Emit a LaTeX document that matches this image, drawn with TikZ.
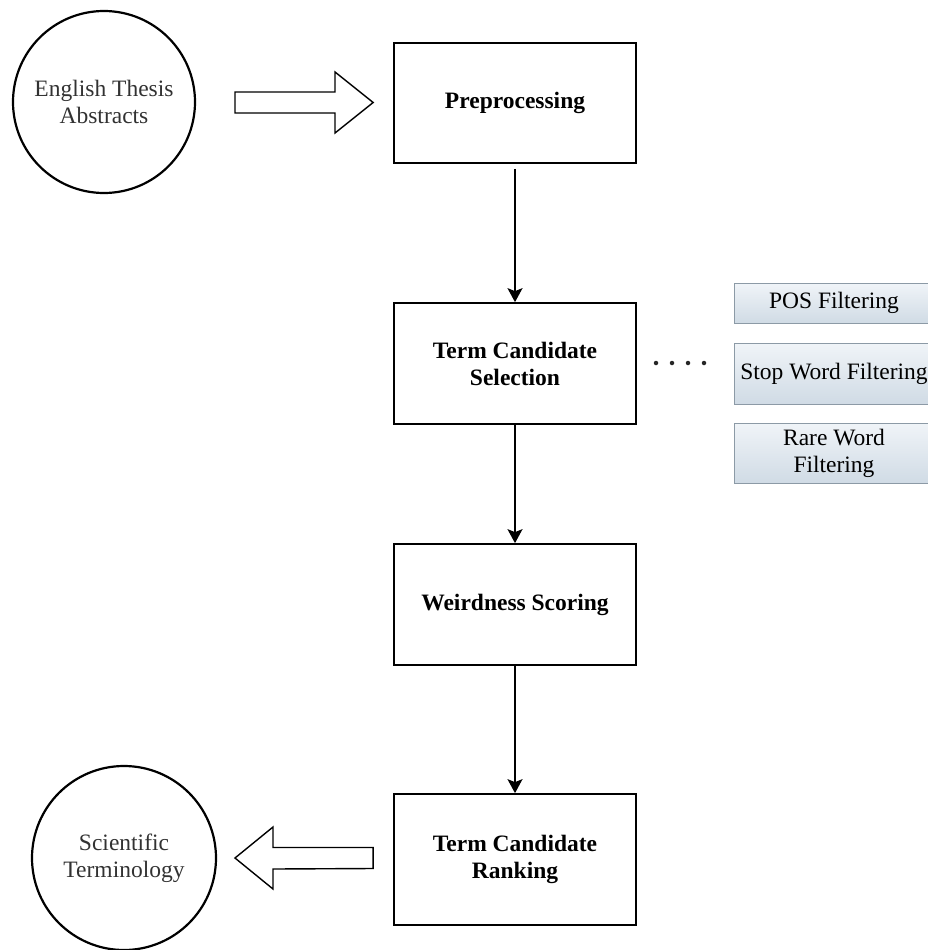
\documentclass[tikz,border=0pt]{standalone}
\usepackage{fontspec}
\setmainfont{Liberation Serif}
\usetikzlibrary{arrows.meta,calc}
\definecolor{inkgray}{RGB}{50,50,50}
\definecolor{filtertop}{RGB}{240,244,248}
\definecolor{filterbot}{RGB}{208,219,229}
\definecolor{filterline}{RGB}{140,154,166}
\begin{document}
\begin{tikzpicture}[x=1pt,y=-1pt,
  every node/.style={font=\fontsize{23.5}{27}\selectfont, align=center},
  stage/.style={draw, line width=1.7pt, minimum width=242pt, inner sep=0pt, font=\fontsize{23.5}{27}\selectfont\bfseries},
  endpoint/.style={draw, circle, line width=2.2pt, inner sep=0pt, text=inkgray},
  filterbox/.style={draw=filterline, line width=1pt, top color=filtertop, bottom color=filterbot,
    minimum width=200pt, inner sep=0pt},
  flow/.style={line width=1.7pt, -{Stealth[length=14pt,width=15pt,inset=3pt]}},
  fatarrow/.style={draw, line width=1.4pt, line join=miter, fill=white},
  dot/.style={circle, fill=black!85, inner sep=0pt, minimum size=4.5pt}
]
\useasboundingbox (0,0) rectangle (928,950);

% input and output corpora
\node[endpoint, minimum size=182pt] (src) at (104,102) {English Thesis\\Abstracts};
\node[endpoint, minimum size=184pt] (out) at (124,858) {Scientific\\Terminology};

% pipeline stages
\node[stage, minimum height=120pt] (pre)  at (515,103)   {Preprocessing};
\node[stage, minimum height=121pt] (sel)  at (515,363.5) {Term Candidate\\Selection};
\node[stage, minimum height=121pt] (wei)  at (515,604.5) {Weirdness Scoring};
\node[stage, minimum height=131pt] (rank) at (515,859.5) {Term Candidate\\Ranking};

% filters applied during candidate selection
\node[filterbox, minimum height=40pt] (pos)  at (834,303)   {POS Filtering};
\node[filterbox, minimum height=61pt] (stop) at (834,373.5) {Stop Word Filtering};
\node[filterbox, minimum height=60pt] (rare) at (834,453)   {Rare Word\\Filtering};

% dotted link between selection and its filters
\node[dot] (d1) at (656,363) {};
\node[dot] (d2) at (672,363) {};
\node[dot] (d3) at (688,363) {};
\node[dot] (d4) at (704,363) {};

% stage-to-stage flow
\draw[flow, shorten <=5pt] (pre) -- (sel);
\draw[flow] (sel) -- (wei);
\draw[flow] (wei) -- (rank);

% block arrow into the pipeline: tail at x=235, tip just left of the first stage
\coordinate (inTail) at (235,102.5);
\coordinate (inTip)  at ($(pre.west)+(-20,-0.5)$);
\draw[fatarrow] ($(inTail)+(0,-10.5)$) -- ++(100,0) -- ++(0,-20) -- (inTip)
  -- ($(inTail)+(100,30.5)$) -- ++(0,-20) -- ($(inTail)+(0,10.5)$) -- cycle;

% block arrow out of the last stage towards the terminology
\coordinate (outTail) at ($(rank.west)+(-20,-1.5)$);
\coordinate (outTip)  at (235,858);
\draw[fatarrow] ($(outTail)+(0,-10.5)$) -- ($(outTip)+(38,-10.5)$) -- ++(0,-20.5) -- (outTip)
  -- ($(outTip)+(38,31)$) -- ++(0,-20) -- ($(outTail)+(0,10.5)$) -- cycle;
\end{tikzpicture}
\end{document}
